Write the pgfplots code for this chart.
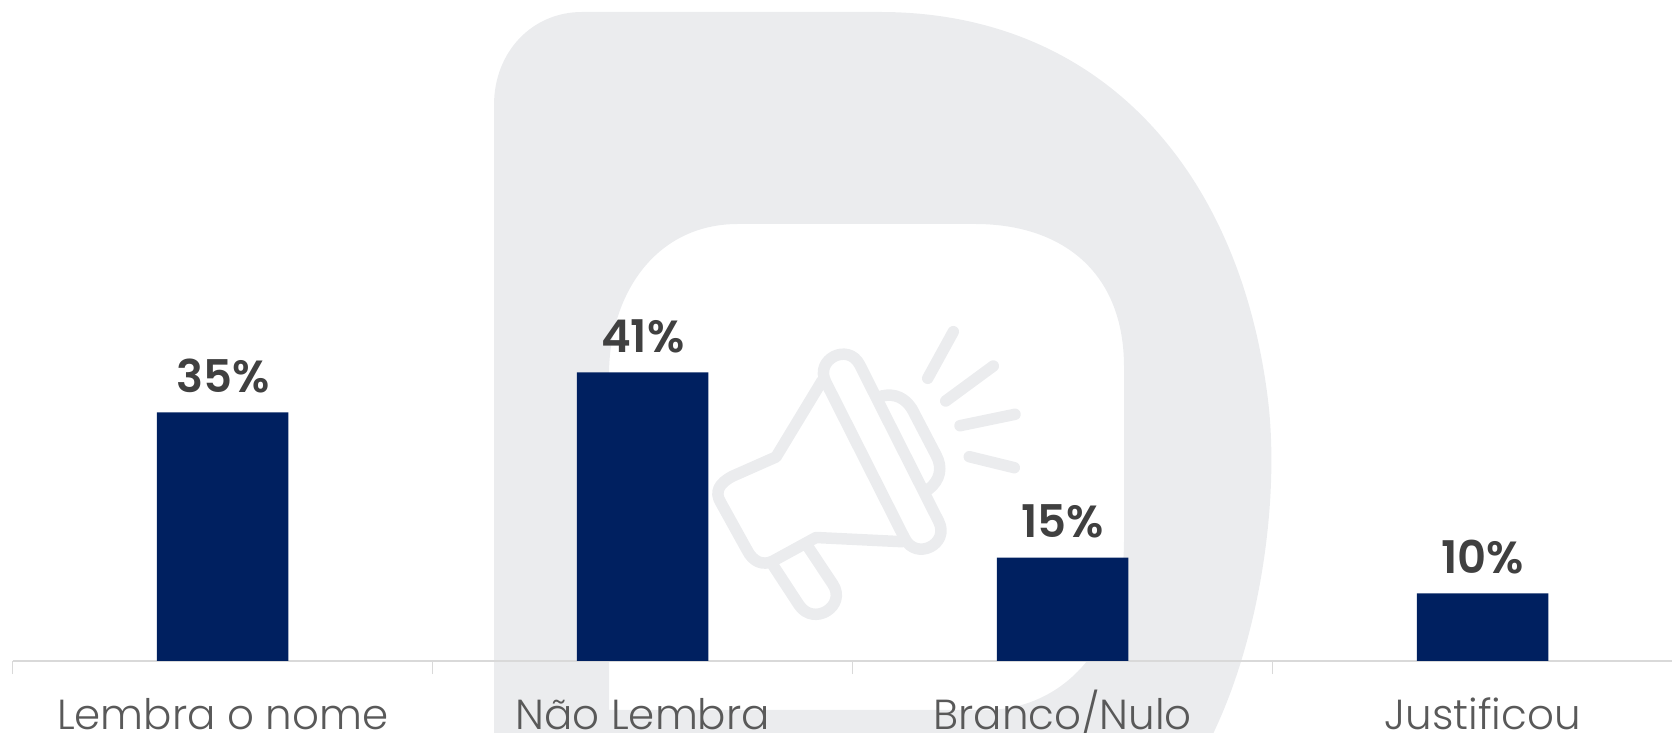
\documentclass[border=0pt]{standalone}
\usepackage{fontspec}
\setmainfont{Poppins}[UprightFont=* Light,BoldFont=* SemiBold]
\usepackage{pgfplots}
\pgfplotsset{compat=1.18}
\definecolor{wm}{HTML}{EBECEE}
\definecolor{barblue}{HTML}{002060}
\definecolor{axisgray}{HTML}{D9D9D9}
\definecolor{ticktext}{HTML}{595959}
\definecolor{valtext}{HTML}{404040}
\begin{document}
\begin{tikzpicture}[x=1pt,y=1pt]
\path[use as bounding box,clip] (0,0) rectangle (1672,733);
\begin{scope}[x=1pt,y=-1pt,yshift=733pt]
% watermark letter
\fill[wm,even odd rule]
 (494,740) -- (494,105) .. controls (494,52) and (532,12) .. (582,12) -- (880,12)
 .. controls (1100,12) and (1240,170) .. (1268,400)
 .. controls (1280,500) and (1260,640) .. (1210,740) -- cycle
 (609,710) -- (609,375) .. controls (609,295) and (655,224) .. (738,224) -- (975,224)
 .. controls (1060,224) and (1124,270) .. (1124,367) -- (1124,540)
 .. controls (1124,650) and (1060,710) .. (985,710) -- cycle;
% megaphone
\begin{scope}[draw=wm,line width=11.5pt,line cap=round,line join=round]
\draw (825.7,381.9) .. controls (814.3,359.3) and (848.3,342.2) .. (859.7,364.8)
  -- (938.7,521.5) .. controls (950.1,544.1) and (916.1,561.1) .. (904.7,538.5) -- cycle;
\draw (822,381) -- (776,457) -- (733,476) .. controls (719,483) and (714,492) .. (721,503)
  -- (747,550) .. controls (753,562) and (763,566) .. (773,561) -- (816,537.5) -- (902,541.7);
\draw (773.3,565.7) -- (799,605) .. controls (813.7,627) and (847.4,606) .. (832.7,584) -- (808.3,547.3);
\draw (881.7,396) .. controls (895,393) and (905,398) .. (912,409) -- (936,455)
  .. controls (943,468) and (940,480) .. (929,489);
\draw (953.3,331.7) -- (927.7,378.3);
\draw (993.3,366) -- (945.7,401);
\draw (1015,414.3) -- (960,425.7);
\draw (1014.3,467.7) -- (969.3,456.7);
\end{scope}
\end{scope}
\begin{axis}[
  at={(12.7pt,72pt)}, anchor=south west,
  scale only axis, width=1659.3pt, height=650pt,
  xmin=-0.5, xmax=3.4507, ymin=0, ymax=92.33,
  axis x line=bottom, axis y line=none,
  axis line style={draw=axisgray,line width=2pt,-},
  xtick={0,1,2,3},
  xticklabels={Lembra o nome,Não Lembra,Branco/Nulo,Justificou},
  minor xtick={-0.5,0.5,1.5,2.5},
  major tick length=0pt, minor tick length=13pt,
  every minor tick/.style={draw=axisgray,line width=1.5pt},
  tick align=outside,
  xticklabel style={font=\fontsize{42}{42}\selectfont,text=ticktext,anchor=base,yshift=-68pt,inner sep=0pt},
  ybar, bar width=131.5pt,
  clip=false,
  point meta=explicit symbolic,
  nodes near coords,
  nodes near coords style={font=\bfseries\fontsize{45}{45}\selectfont,text=valtext,anchor=base,yshift=20pt,inner sep=0pt},
]
\addplot[fill=barblue,draw=none] coordinates {
 (0,35.3) [35\%]
 (1,41.0) [41\%]
 (2,14.7) [15\%]
 (3,9.6) [10\%]
};
\end{axis}
\end{tikzpicture}
\end{document}
